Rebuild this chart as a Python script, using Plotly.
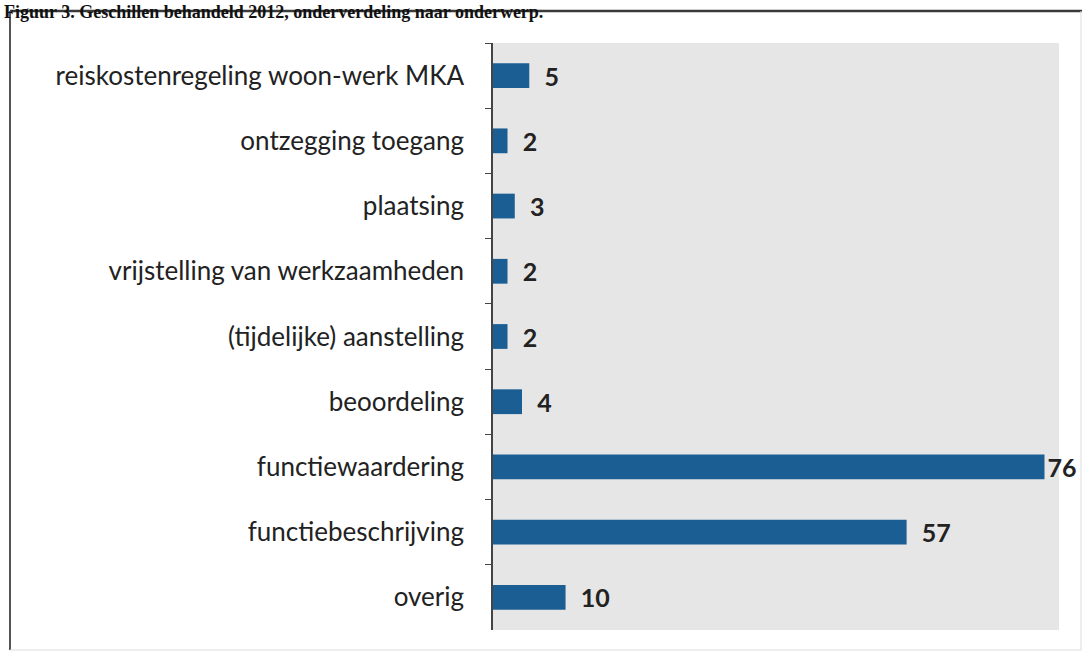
import plotly.graph_objects as go

categories = [
    "reiskostenregeling woon-werk MKA",
    "ontzegging toegang",
    "plaatsing",
    "vrijstelling van werkzaamheden",
    "(tijdelijke) aanstelling",
    "beoordeling",
    "functiewaardering",
    "functiebeschrijving",
    "overig",
]
values = [5, 2, 3, 2, 2, 4, 76, 57, 10]
title_text = "Figuur 3. Geschillen behandeld 2012, onderverdeling naar onderwerp."

W, H = 1084, 653
L, R, T, B = 493, 25, 43, 23
pw, ph = W - L - R, H - T - B

def px(x):
    return (x - L) / pw

def py(y):
    return (H - B - y) / ph

pad = "\u00a0\u00a0"
labels = [(pad + str(v)) if v < 70 else str(v) for v in values]

fig = go.Figure(go.Bar(
    x=values, y=categories, orientation="h",
    marker=dict(color="#1b5e94", line=dict(width=0)),
    text=labels, textposition="outside", constraintext="none",
    textfont=dict(family="Lato", size=25, color="#222222", weight="bold"),
    cliponaxis=False,
    width=0.38,
))

fig.update_layout(
    width=W, height=H,
    margin=dict(l=L, r=R, t=T, b=B),
    paper_bgcolor="white",
    plot_bgcolor="#e6e6e6",
    showlegend=False,
    xaxis=dict(range=[0, 78], visible=False, showgrid=False),
    yaxis=dict(
        autorange="reversed", showline=True, linecolor="#444444", linewidth=1.5,
        ticks="outside", tickson="boundaries", ticklen=6, tickcolor="#444444",
        tickfont=dict(family="Lato", size=26, color="#222222"),
        ticklabelstandoff=22, showgrid=False,
    ),
    font=dict(family="Lato"),
)

# page frame (scanned report box)
fig.add_shape(type="line", xref="paper", yref="paper", x0=px(10), x1=px(1082), y0=py(11), y1=py(11),
              line=dict(color="#3a3a3a", width=2.5))
fig.add_shape(type="line", xref="paper", yref="paper", x0=px(10), x1=px(10), y0=py(11), y1=py(650),
              line=dict(color="#555555", width=2))
fig.add_shape(type="line", xref="paper", yref="paper", x0=px(1081), x1=px(1081), y0=py(11), y1=py(650),
              line=dict(color="#dddddd", width=1))
fig.add_shape(type="line", xref="paper", yref="paper", x0=px(10), x1=px(1081), y0=py(650), y1=py(650),
              line=dict(color="#dddddd", width=1))

# heading at top of the scan
fig.add_annotation(text="<b>" + title_text + "</b>", xref="paper", yref="paper",
                   x=px(2), y=py(0), xanchor="left", yanchor="top", showarrow=False,
                   font=dict(family="Liberation Serif", size=18, color="#111111"))

fig.write_html("out.html", config={"displayModeBar": False},
               post_script="document.body.style.margin='0';")
